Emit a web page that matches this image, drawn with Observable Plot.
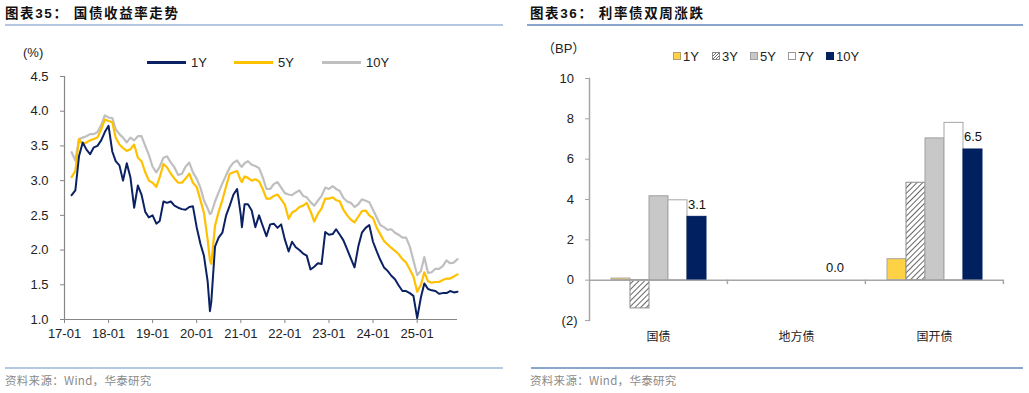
<!DOCTYPE html>
<html><head><meta charset="utf-8">
<script src="https://cdn.jsdelivr.net/npm/d3@7"></script>
<script src="https://cdn.jsdelivr.net/npm/@observablehq/plot@0.6"></script>
<style>
body{margin:0;background:#fff;}
#root{position:relative;width:1029px;height:393px;overflow:hidden;font-family:"Liberation Sans",Arial,"Noto Sans CJK SC",sans-serif;color:#222;background:#fff;}
.abs{position:absolute;white-space:nowrap;line-height:1;}
.title{font-family:"Liberation Sans","Noto Sans CJK SC",sans-serif;font-weight:bold;font-size:13.5px;letter-spacing:1.6px;color:#111;}
.src{font-family:"Noto Sans CJK SC",sans-serif;font-size:11.5px;color:#8a8a8a;letter-spacing:0.3px;}
.lg{font-size:13px;}
.sw{position:absolute;height:2.5px;width:39px;}
.sq{position:absolute;width:8px;height:8px;box-sizing:border-box;border:1px solid #999;}
</style>
</head><body>
<div id="root"></div>
<script>
// ---------- Left chart data: 国债收益率 (%) ----------
const dates = [
 "2017-03","2017-04","2017-05","2017-06","2017-07","2017-08","2017-09","2017-10","2017-11","2017-12",
 "2018-01","2018-02","2018-03","2018-04","2018-05","2018-06","2018-07","2018-08","2018-09","2018-10","2018-11","2018-12",
 "2019-01","2019-02","2019-03","2019-04","2019-05","2019-06","2019-07","2019-08","2019-09","2019-10","2019-11","2019-12",
 "2020-01","2020-02","2020-03","2020-04","2020-04-20","2020-05","2020-06","2020-07","2020-08","2020-09","2020-10","2020-11","2020-12",
 "2021-01","2021-01-10","2021-02","2021-03","2021-04","2021-05","2021-06","2021-07","2021-08","2021-09","2021-10","2021-11","2021-12",
 "2022-01","2022-02","2022-03","2022-04","2022-05","2022-06","2022-07","2022-08","2022-09","2022-10","2022-11","2022-12",
 "2023-01","2023-02","2023-03","2023-04","2023-05","2023-06","2023-07","2023-08","2023-09","2023-10","2023-11","2023-12",
 "2024-01","2024-02","2024-03","2024-04","2024-05","2024-06","2024-07","2024-08","2024-09","2024-10","2024-11","2024-12",
 "2025-01","2025-02","2025-03","2025-04","2025-05","2025-06","2025-07","2025-08","2025-09","2025-10","2025-11","2025-12"
];
const y1 = [
 2.79,2.86,3.35,3.55,3.45,3.38,3.48,3.50,3.58,3.70,
 3.79,3.42,3.28,3.22,3.00,3.25,3.05,2.61,2.93,2.80,2.55,2.47,
 2.50,2.38,2.42,2.70,2.68,2.70,2.64,2.61,2.59,2.58,2.62,2.63,
 2.33,2.09,1.92,1.55,1.12,1.25,2.05,2.18,2.25,2.50,2.64,2.80,2.88,
 2.50,2.33,2.66,2.66,2.57,2.33,2.50,2.35,2.20,2.37,2.38,2.32,2.37,
 2.15,1.98,2.12,2.04,2.00,1.95,1.92,1.72,1.76,1.81,1.80,2.26,
 2.22,2.23,2.30,2.22,2.14,2.01,1.88,1.75,2.05,2.25,2.32,2.36,
 2.12,1.98,1.86,1.75,1.70,1.63,1.58,1.49,1.41,1.41,1.38,1.34,
 1.02,1.32,1.52,1.44,1.42,1.41,1.37,1.38,1.38,1.41,1.39,1.40
];
const y5 = [
 3.05,3.14,3.60,3.52,3.55,3.58,3.60,3.62,3.74,3.88,
 3.86,3.84,3.62,3.52,3.47,3.43,3.45,3.52,3.33,3.28,3.12,3.00,
 2.97,2.91,3.05,3.24,3.19,3.10,3.03,2.97,2.97,3.03,3.10,2.97,
 2.91,2.72,2.54,2.15,1.85,1.80,2.35,2.55,2.72,2.92,3.10,3.12,3.14,
 3.00,2.98,3.06,3.04,3.00,3.02,2.99,2.88,2.74,2.74,2.78,2.80,2.73,
 2.65,2.45,2.54,2.57,2.62,2.64,2.68,2.56,2.41,2.52,2.60,2.74,
 2.74,2.76,2.72,2.70,2.58,2.50,2.44,2.40,2.48,2.56,2.57,2.50,
 2.46,2.32,2.23,2.13,2.08,2.03,1.99,1.94,1.87,1.82,1.72,1.62,
 1.40,1.50,1.68,1.55,1.53,1.54,1.54,1.57,1.59,1.59,1.62,1.65
];
const y10 = [
 3.41,3.29,3.60,3.62,3.64,3.67,3.67,3.70,3.80,3.94,
 3.91,3.90,3.74,3.67,3.62,3.55,3.62,3.58,3.64,3.64,3.50,3.37,
 3.20,3.12,3.20,3.33,3.35,3.26,3.19,3.08,3.10,3.20,3.26,3.12,
 3.03,2.90,2.72,2.60,2.52,2.53,2.70,2.83,2.96,3.08,3.19,3.26,3.29,
 3.21,3.20,3.25,3.28,3.23,3.21,3.18,3.05,2.88,2.88,2.95,2.98,2.90,
 2.82,2.80,2.79,2.83,2.86,2.78,2.76,2.69,2.64,2.71,2.78,2.90,
 2.88,2.92,2.88,2.85,2.75,2.70,2.68,2.62,2.66,2.73,2.71,2.69,
 2.58,2.47,2.36,2.33,2.29,2.30,2.25,2.22,2.18,2.18,2.05,1.85,
 1.64,1.70,1.90,1.67,1.68,1.73,1.73,1.77,1.85,1.81,1.82,1.87
];
const lineSeries = ["1Y","5Y","10Y"];
const lineColors = ["#0a2263","#ffc000","#bfbfbf"];
const xTickLabels = ["2017-01","2018-01","2019-01","2020-01","2021-01","2022-01","2023-01","2024-01","2025-01"];
const xDomain = ["2017-01-01","2025-12-01"];
const yTicksLeft = [1.0,1.5,2.0,2.5,3.0,3.5,4.0,4.5];

// ---------- Right chart data: 利率债双周涨跌 (BP) ----------
const categories = ["国债","地方债","国开债"];
const barSeries = ["1Y","3Y","5Y","7Y","10Y"];
const guozhai = [0.08,-1.40,4.16,3.96,3.14];
const difangzhai = [0,0,0,0,0];
const guokaizhai = [1.04,4.83,7.03,7.80,6.48];
const yTicksRight = [-2,0,2,4,6,8,10];

const root = document.getElementById("root");
function addDiv(cls, txt, left, top, extra) {
  const d = document.createElement("div");
  d.className = "abs " + cls;
  d.textContent = txt;
  d.style.left = left + "px"; d.style.top = top + "px";
  if (extra) Object.assign(d.style, extra);
  root.appendChild(d);
  return d;
}
function addBox(cls, left, top, w, h, extra) {
  const d = document.createElement("div");
  d.className = cls; d.style.position = "absolute";
  d.style.left = left + "px"; d.style.top = top + "px";
  if (w != null) d.style.width = w + "px";
  if (h != null) d.style.height = h + "px";
  if (extra) Object.assign(d.style, extra);
  root.appendChild(d);
  return d;
}

// titles and frames
addDiv("title", "图表35：  国债收益率走势", 5, 7);
addDiv("title", "图表36：  利率债双周涨跌", 530, 7);
addBox("", 5, 24, 498, 2, {background:"#b4c8e4"});
addBox("", 527, 24, 496, 2, {background:"#8aa6cf"});
addBox("", 5, 367, 498, 2, {background:"#b4c8e4"});
addBox("", 531, 367, 492, 2, {background:"#8aa6cf"});
addDiv("src", "资料来源：Wind，华泰研究", 5, 375);
addDiv("src", "资料来源：Wind，华泰研究", 530, 375);

// left unit + legend
addDiv("lg", "(%)", 23, 46);
const legX = [147, 234, 322];
lineSeries.forEach((s, i) => {
  addBox("sw", legX[i], 61, 39, 2.5, {background: lineColors[i]});
  addDiv("lg", s, legX[i] + 44, 56);
});

// ---------- Left plot ----------
const rows = dates.map((d, i) => ({date: new Date(d), "1Y": y1[i], "5Y": y5[i], "10Y": y10[i]}));
const font = '"Liberation Sans", Arial, sans-serif';
const left = Plot.plot({
  width: 467, height: 278,
  marginLeft: 64, marginRight: 10, marginTop: 10, marginBottom: 25,
  style: {fontFamily: font, fontSize: "13px", color: "#222", background: "transparent", overflow: "visible"},
  x: {type: "utc", domain: xDomain.map(d => new Date(d))},
  y: {domain: [1, 4.5]},
  marks: [
    Plot.ruleX([new Date(xDomain[0])], {stroke: "#868686", strokeWidth: 1.2}),
    Plot.ruleY([1], {stroke: "#868686", strokeWidth: 1.2}),
    Plot.line(rows, {x: "date", y: "10Y", stroke: lineColors[2], strokeWidth: 2.2}),
    Plot.line(rows, {x: "date", y: "5Y", stroke: lineColors[1], strokeWidth: 2.2}),
    Plot.line(rows, {x: "date", y: "1Y", stroke: lineColors[0], strokeWidth: 2}),
    Plot.axisX({ticks: xTickLabels.map(d => new Date(d)), tickFormat: d3.utcFormat("%y-%m"), tickSize: 4, tickPadding: 5, stroke: "#868686", fill: "#222", label: null}),
    Plot.axisY({ticks: yTicksLeft, tickFormat: d => d.toFixed(1), tickSize: 4, tickPadding: 12, stroke: "#868686", fill: "#222", label: null})
  ]
});
const lw = document.createElement("div");
lw.style.position = "absolute"; lw.style.left = "0px"; lw.style.top = "66px";
lw.appendChild(left); root.appendChild(lw);

// right unit + legend
addDiv("lg", "（BP）", 542, 42, {fontFamily: '"Liberation Sans","Noto Sans CJK SC",sans-serif'});
const sqStyles = [
  {background: "#ffd246", borderColor: "#b0a070"},
  {background: "repeating-linear-gradient(135deg, #fff 0 1.5px, #666 1.5px 2.3px)", borderColor: "#888"},
  {background: "#c8c8c8", borderColor: "#a0a0a0"},
  {background: "#fff", borderColor: "#999"},
  {background: "#002060", borderColor: "#002060"}
];
const sqX = [673, 712, 750, 788, 826];
barSeries.forEach((s, i) => {
  addBox("sq", sqX[i], 52, 8, 8, sqStyles[i]);
  addDiv("lg", s, sqX[i] + 10, 50);
});

// ---------- Right plot ----------
const values = [guozhai, difangzhai, guokaizhai];
const barRows = categories.flatMap((c, i) => barSeries.map((s, j) => ({c, s, v: values[i][j]})));
const RW = 473, RML = 49, RMR = 10, padOuter = 1.075;
const facetW = (RW - RML - RMR) / categories.length;
const step = facetW / (barSeries.length + 2 * padOuter);
const edgeDx = step * (padOuter + 0.5);
const barStyle = {
  "1Y": {fill: "#ffd246", stroke: "#a6a6a6"},
  "3Y": {fill: "url(#hatch3y)", stroke: "#8c8c8c"},
  "5Y": {fill: "#c8c8c8", stroke: "#a0a0a0"},
  "7Y": {fill: "#ffffff", stroke: "#a6a6a6"},
  "10Y": {fill: "#002060", stroke: "#002060"}
};
const right = Plot.plot({
  width: RW, height: 282,
  marginLeft: RML, marginRight: RMR, marginTop: 10, marginBottom: 30,
  style: {fontFamily: font, fontSize: "13px", color: "#222", background: "transparent", overflow: "visible"},
  fx: {domain: categories, padding: 0},
  x: {domain: barSeries, paddingInner: 0, paddingOuter: padOuter, axis: null},
  y: {domain: [-2, 10]},
  marks: [
    ...barSeries.map(s => Plot.barY(barRows.filter(d => d.s === s), {fx: "c", x: "s", y: "v", ...barStyle[s], strokeWidth: 1})),
    Plot.ruleY([0], {stroke: "#a6a6a6", strokeWidth: 1.5}),
    Plot.ruleX(["10Y"], {x: d => d, y1: 0, y2: -0.22, dx: edgeDx, stroke: "#a6a6a6", strokeWidth: 1.5}),
    Plot.text(barRows.filter(d => d.s === "10Y"), {fx: "c", x: "s", y: "v", text: d => d.v.toFixed(1), lineAnchor: "bottom", dy: -8, fontSize: 13, fill: "#111"}),
    Plot.frame({anchor: "left", facetAnchor: "left", stroke: "#a6a6a6", strokeWidth: 1.5}),
    Plot.axisY({ticks: yTicksRight, tickFormat: d => d < 0 ? `(${-d})` : `${d}\u00a0`, tickSize: 4, tickPadding: 8, stroke: "#a6a6a6", fill: "#222", label: null}),
    Plot.axisFx({anchor: "bottom", tickSize: 0, tickPadding: 12, label: null, fontFamily: '"Noto Sans CJK SC", sans-serif', fontSize: 12, fill: "#222"})
  ]
});
right.insertAdjacentHTML("afterbegin",
  '<defs><pattern id="hatch3y" width="4" height="4" patternUnits="userSpaceOnUse" patternTransform="rotate(45)">' +
  '<rect width="4" height="4" fill="#fff"/><line x1="0.5" y1="0" x2="0.5" y2="4" stroke="#555" stroke-width="0.9"/></pattern></defs>');
const rw = document.createElement("div");
rw.style.position = "absolute"; rw.style.left = "540px"; rw.style.top = "68px";
rw.appendChild(right); root.appendChild(rw);
</script>
</body></html>
